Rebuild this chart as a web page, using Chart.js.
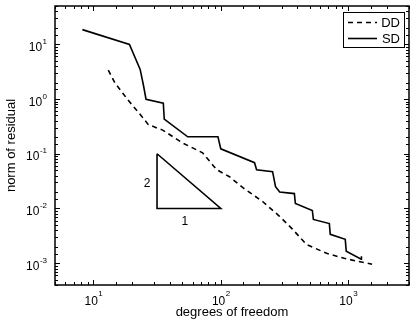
<!DOCTYPE html>
<html>
<head>
<meta charset="utf-8">
<script src="https://cdn.jsdelivr.net/npm/chart.js@4.4.1/dist/chart.umd.min.js"></script>
<style>
    html, body { margin: 0; padding: 0; background: #fff; }
</style>
</head>
<body>
<canvas id="grafico" width="410" height="322"></canvas>
<script>
// =========================
// Datos
// =========================
const gradosDD = [13.1, 14.8, 18.7, 24, 27, 35, 50, 72, 93, 117, 149, 213, 289, 365, 470, 685, 930, 1175, 1540];
const residuoDD = [3.37, 1.95, 0.96, 0.48, 0.34, 0.27, 0.158, 0.104, 0.051, 0.038, 0.024, 0.0134, 0.0072, 0.0042, 0.0022, 0.0015, 0.00123, 0.00109, 0.00096];

const gradosSD = [8.2, 19.2, 23.3, 24.7, 25.9, 35.4, 36, 55, 95, 100, 184, 191, 255, 269, 290, 378, 385, 523, 533, 711, 723, 948, 965, 1265, 1270];
const residuoSD = [18.5, 9.9, 3.47, 1.8, 0.99, 0.84, 0.43, 0.204, 0.204, 0.123, 0.0686, 0.051, 0.047, 0.025, 0.02, 0.0187, 0.0123, 0.0092, 0.0063, 0.0053, 0.00337, 0.00273, 0.00166, 0.00118, 0.00134];

// triángulo de pendiente 2:1
const gradosTri = [31.6, 31.6, 100, 31.6];
const residuoTri = [0.1, 0.01, 0.01, 0.1];

// etiquetas de las décadas
const decadasX = [10, 100, 1000];
const decadasY = [10, 1, 0.1, 0.01, 0.001];

const FUENTE = "'Liberation Sans', Arial, Helvetica, sans-serif";

function aPuntos(xs, ys) {
    return xs.map((x, i) => ({ x: x, y: ys[i] }));
}

function esDecada(v) {
    const l = Math.log10(v);
    return Math.abs(l - Math.round(l)) < 1e-6;
}

// =========================
// Marco, marcas y etiquetas estilo MATLAB
// =========================
const marcoPlugin = {
    id: 'marco',
    afterDatasetsDraw(chart) {
        const ctx = chart.ctx;
        const a = chart.chartArea;
        const sx = chart.scales.x;
        const sy = chart.scales.y;
        ctx.save();
        ctx.strokeStyle = '#000';
        ctx.lineWidth = 1;
        ctx.beginPath();

        sx.ticks.forEach(t => {
            const px = Math.round(sx.getPixelForValue(t.value)) + 0.5;
            const len = esDecada(t.value) ? 5 : 3;
            ctx.moveTo(px, a.bottom); ctx.lineTo(px, a.bottom - len);
            ctx.moveTo(px, a.top); ctx.lineTo(px, a.top + len);
        });
        sy.ticks.forEach(t => {
            const py = Math.round(sy.getPixelForValue(t.value)) + 0.5;
            const len = esDecada(t.value) ? 5 : 3;
            ctx.moveTo(a.left, py); ctx.lineTo(a.left + len, py);
            ctx.moveTo(a.right, py); ctx.lineTo(a.right - len, py);
        });
        ctx.stroke();

        ctx.lineWidth = 1.5;
        ctx.strokeRect(a.left, a.top, a.right - a.left, a.bottom - a.top);

        // etiquetas 10^n
        ctx.fillStyle = '#000';
        ctx.textBaseline = 'alphabetic';
        ctx.textAlign = 'left';
        decadasX.forEach(v => {
            const exp = String(Math.round(Math.log10(v)));
            const px = sx.getPixelForValue(v);
            ctx.font = '12px ' + FUENTE;
            const w1 = ctx.measureText('10').width;
            ctx.font = '8px ' + FUENTE;
            const w2 = ctx.measureText(exp).width;
            const x0 = px - (w1 + w2) / 2;
            ctx.font = '12px ' + FUENTE;
            ctx.fillText('10', x0, a.bottom + 20);
            ctx.font = '8px ' + FUENTE;
            ctx.fillText(exp, x0 + w1 + 0.5, a.bottom + 11);
        });
        decadasY.forEach(v => {
            const exp = String(Math.round(Math.log10(v)));
            const py = sy.getPixelForValue(v);
            ctx.font = '12px ' + FUENTE;
            const w1 = ctx.measureText('10').width;
            ctx.font = '8px ' + FUENTE;
            const w2 = ctx.measureText(exp).width;
            const x0 = a.left - 8 - w2 - w1 - 0.5;
            ctx.font = '12px ' + FUENTE;
            ctx.fillText('10', x0, py + 6.5);
            ctx.font = '8px ' + FUENTE;
            ctx.fillText(exp, x0 + w1 + 0.5, py - 0.5);
        });

        // etiquetas del triángulo
        ctx.font = '12px ' + FUENTE;
        ctx.textAlign = 'center';
        ctx.textBaseline = 'middle';
        const tx = sx.getPixelForValue(gradosTri[0]);
        const tyMid = (sy.getPixelForValue(residuoTri[0]) + sy.getPixelForValue(residuoTri[1])) / 2;
        ctx.fillText('2', tx - 10, tyMid + 3);
        const txMid = (sx.getPixelForValue(gradosTri[1]) + sx.getPixelForValue(gradosTri[2])) / 2;
        ctx.fillText('1', txMid - 4, sy.getPixelForValue(residuoTri[1]) + 13);
        ctx.restore();
    }
};

// =========================
// Leyenda con recuadro
// =========================
const leyendaPlugin = {
    id: 'leyenda',
    afterDraw(chart) {
        const ctx = chart.ctx;
        const a = chart.chartArea;
        const series = chart.data.datasets.filter(d => d.label);
        const x0 = a.right - 66, y0 = a.top + 6, w = 61, h = 35;
        ctx.save();
        ctx.fillStyle = '#fff';
        ctx.fillRect(x0, y0, w, h);
        ctx.strokeStyle = '#000';
        ctx.lineWidth = 1;
        ctx.strokeRect(x0 + 0.5, y0 + 0.5, w, h);
        ctx.font = '13px ' + FUENTE;
        ctx.fillStyle = '#000';
        ctx.textBaseline = 'middle';
        ctx.textAlign = 'right';
        series.forEach((d, i) => {
            const yy = y0 + 10.5 + i * 16;
            ctx.setLineDash(d.borderDash || []);
            ctx.lineWidth = d.borderWidth;
            ctx.beginPath();
            ctx.moveTo(x0 + 5, yy);
            ctx.lineTo(x0 + 34, yy);
            ctx.stroke();
            ctx.setLineDash([]);
            ctx.fillText(d.label, x0 + w - 4, yy + 0.5);
        });
        ctx.restore();
    }
};

const ctx = document.getElementById('grafico').getContext('2d');
new Chart(ctx, {
    type: 'line',
    data: {
        datasets: [
            {
                label: 'DD',
                data: aPuntos(gradosDD, residuoDD),
                borderColor: '#000',
                borderWidth: 1.6,
                borderDash: [5, 4],
                pointRadius: 0,
                tension: 0
            },
            {
                label: 'SD',
                data: aPuntos(gradosSD, residuoSD),
                borderColor: '#000',
                borderWidth: 1.6,
                pointRadius: 0,
                tension: 0
            },
            {
                label: '',
                data: aPuntos(gradosTri, residuoTri),
                borderColor: '#000',
                borderWidth: 1.6,
                pointRadius: 0,
                tension: 0
            }
        ]
    },
    options: {
        responsive: false,
        animation: false,
        devicePixelRatio: 1,
        layout: { padding: { top: 6, right: 1, left: 0, bottom: 0 } },
        plugins: {
            legend: { display: false },
            tooltip: { enabled: false }
        },
        scales: {
            x: {
                type: 'logarithmic',
                min: 5,
                max: 3000,
                grid: { display: false, drawTicks: false },
                border: { display: false },
                ticks: { display: false, autoSkip: false },
                title: {
                    display: true,
                    text: 'degrees of freedom',
                    color: '#000',
                    font: { family: FUENTE, size: 13 },
                    padding: { top: 0, bottom: 2 }
                },
                afterFit(scale) { scale.height = 37; }
            },
            y: {
                type: 'logarithmic',
                min: 0.0004,
                max: 50,
                grid: { display: false, drawTicks: false },
                border: { display: false },
                ticks: { display: false, autoSkip: false },
                title: {
                    display: true,
                    text: 'norm of residual',
                    color: '#000',
                    font: { family: FUENTE, size: 13 },
                    padding: { top: 4, bottom: 0 }
                },
                afterFit(scale) { scale.width = 55; }
            }
        }
    },
    plugins: [marcoPlugin, leyendaPlugin]
});
</script>
</body>
</html>
